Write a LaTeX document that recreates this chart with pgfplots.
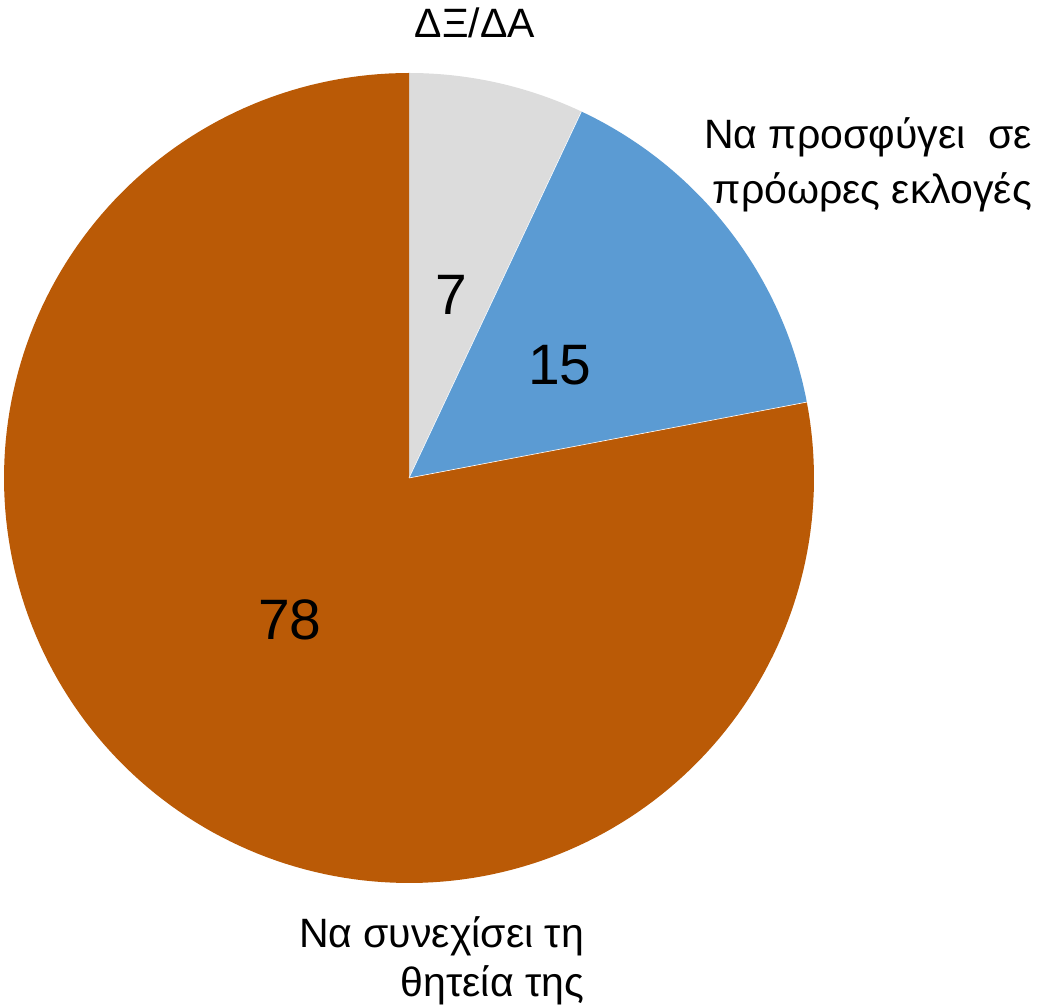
\documentclass[border=0pt]{standalone}
\usepackage{fontspec}
\setmainfont{Liberation Sans}
\usepackage{pgfplots}
\pgfplotsset{compat=1.18}
\definecolor{cgray}{HTML}{DCDCDC}
\definecolor{cblue}{HTML}{5B9BD3}
\definecolor{corange}{HTML}{BA5A06}
\begin{document}
\begin{tikzpicture}
% shares (percent)
\def\vA{7}   % ΔΞ/ΔΑ
\def\vB{15}  % Να προσφύγει σε πρόωρες εκλογές
\def\vC{78}  % Να συνεχίσει τη θητεία της
\pgfmathsetmacro{\aA}{90-3.6*\vA}
\pgfmathsetmacro{\aB}{\aA-3.6*\vB}
\pgfmathsetmacro{\aC}{\aB-3.6*\vC}
\begin{axis}[
  width=519.5pt, height=502.5pt, scale only axis,
  xmin=0, xmax=1039, ymin=0, ymax=1005,
  hide axis, clip=false,
]
\addplot[draw=none, fill=cgray, domain=\aA:90, samples=40, variable=\t]
  ({409+405*cos(t)}, {527+405*sin(t)}) -- (axis cs:409,527) -- cycle;
\addplot[draw=none, fill=cblue, domain=\aB:\aA, samples=60, variable=\t]
  ({409+405*cos(t)}, {527+405*sin(t)}) -- (axis cs:409,527) -- cycle;
\addplot[draw=none, fill=corange, domain=\aC:\aB, samples=200, variable=\t]
  ({409+405*cos(t)}, {527+405*sin(t)}) -- (axis cs:409,527) -- cycle;
\draw[white, line width=0.3pt] (axis cs:409,527) -- (axis cs:{409+405*cos(\aA)},{527+405*sin(\aA)});
\draw[white, line width=0.3pt] (axis cs:409,527) -- (axis cs:{409+405*cos(\aB)},{527+405*sin(\aB)});
\node[font=\fontsize{28.5}{28.5}\selectfont] at (axis cs:451,710) {\vA};
\node[font=\fontsize{28.5}{28.5}\selectfont] at (axis cs:560,640) {\vB};
\node[font=\fontsize{28.5}{28.5}\selectfont] at (axis cs:290,385) {\vC};
\node[font=\fontsize{20.5}{20.5}\selectfont] at (axis cs:475,982) {ΔΞ/ΔΑ};
\node[font=\fontsize{20.5}{27.5}\selectfont, align=right, anchor=east] at (axis cs:1039,840) {Να προσφύγει\ \ σε\\πρόωρες εκλογές};
\node[font=\fontsize{20.5}{24.5}\selectfont, align=right, anchor=east] at (axis cs:591,44) {Να συνεχίσει τη\\θητεία της};
\end{axis}
\pgfresetboundingbox
\path (0,0) rectangle (519.5pt,502.5pt);
\end{tikzpicture}
\end{document}
